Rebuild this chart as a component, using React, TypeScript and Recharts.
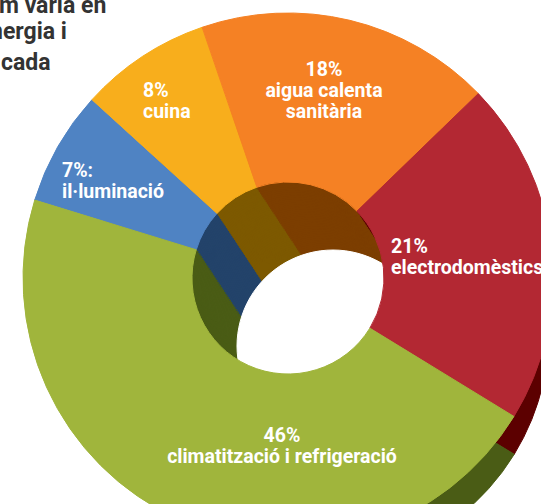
import React from 'react';
import { PieChart, Pie, Cell } from 'recharts';

// consum per usos
const categories = ['il·luminació', 'cuina', 'aigua calenta sanitària', 'electrodomèstics', 'climatització i refrigeració'];
const shares = [7, 8, 18, 21, 46];
const percentLabels = ['7%:', '8%', '18%', '21%', '46%'];
const categoryLines = [['il·luminació'], ['cuina'], ['aigua calenta', 'sanitària'], ['electrodomèstics'], ['climatització i refrigeració']];
const titleLines = ['m varia en', 'nergia i', 'cada'];

const data = categories.map((name, i) => ({ name, value: shares[i] }));

const COLORS = ['#4f83c3', '#f8ae1c', '#f58124', '#b32833', '#a0b53c'];
const DARK = ['#23436a', '#7d5900', '#7c3e00', '#5c0000', '#4a5c15'];

// pie geometry (3d look)
const CX = 288;
const CY = 278;
const R = 265;
const HOLE = 96;
const WALL = { dx: 45, dy: 68 };
const SIDE = { dx: 25, dy: 53, shrink: 29 };
const START = 162.9;

const FONT = "Roboto, 'Liberation Sans', sans-serif";

// where each label sits
const labelPos = [
  { x: 62, y: 177, anchor: 'start' },
  { x: 143, y: 97, anchor: 'start' },
  { x: 324, y: 76, anchor: 'middle' },
  { x: 391, y: 253, anchor: 'start' },
  { x: 282, y: 442, anchor: 'middle' },
];

const renderLabel = (props: any) => {
  const i = categories.indexOf(props.name);
  if (i < 0) return null;
  const p = labelPos[i];
  const lines = [percentLabels[i], ...categoryLines[i]];
  return (
    <text
      key={`lbl-${i}`}
      x={p.x}
      y={p.y}
      textAnchor={p.anchor}
      fill="#fff"
      fontFamily={FONT}
      fontWeight="bold"
      fontSize={19.5}
    >
      {lines.map((l, j) => (
        <tspan key={j} x={p.x} dy={j === 0 ? 0 : 21}>{l}</tspan>
      ))}
    </text>
  );
};

const wallSteps = Array.from({ length: 41 }, (_, k) => k / 40);

export default function App() {
  return (
    <div style={{ position: 'absolute', left: 0, top: 0, width: 541, height: 504, background: '#fff', overflow: 'hidden' }}>
      <PieChart width={541} height={504} margin={{ top: 0, right: 0, bottom: 0, left: 0 }}>
        {/* side of the disc */}
        <Pie
          data={data}
          dataKey="value"
          cx={CX + SIDE.dx}
          cy={CY + SIDE.dy}
          outerRadius={R - SIDE.shrink}
          startAngle={START}
          endAngle={START - 360}
          stroke="none"
          isAnimationActive={false}
        >
          {data.map((d, i) => <Cell key={i} fill={DARK[i]} stroke={DARK[i]} />)}
        </Pie>

        {/* inner wall of the hole */}
        {wallSteps.map((t) => (
          <Pie
            key={`wall-${t}`}
            data={data}
            dataKey="value"
            cx={CX + WALL.dx * t}
            cy={CY + WALL.dy * t}
            outerRadius={HOLE}
            startAngle={START}
            endAngle={START - 360}
            stroke="none"
            isAnimationActive={false}
          >
            {data.map((d, i) => <Cell key={i} fill={DARK[i]} stroke={DARK[i]} />)}
          </Pie>
        ))}
        <Pie
          data={[{ name: 'hole', value: 1 }]}
          dataKey="value"
          cx={CX + WALL.dx}
          cy={CY + WALL.dy}
          outerRadius={HOLE}
          fill="#fff"
          stroke="#fff"
          isAnimationActive={false}
        />

        {/* top face */}
        <Pie
          data={data}
          dataKey="value"
          cx={CX}
          cy={CY}
          innerRadius={HOLE}
          outerRadius={R}
          startAngle={START}
          endAngle={START - 360}
          label={renderLabel}
          labelLine={false}
          isAnimationActive={false}
        >
          {data.map((d, i) => <Cell key={i} fill={COLORS[i]} stroke={COLORS[i]} />)}
        </Pie>
      </PieChart>
      <svg width={541} height={504} style={{ position: 'absolute', left: 0, top: 0, pointerEvents: 'none' }}>
        <text fill="#333" fontFamily="Roboto, sans-serif" fontWeight="bold" fontSize={23}>
          {titleLines.map((l, j) => (
            <tspan key={j} x={[-1, -10, 1][j]} y={[13, 39, 70][j]}>{l}</tspan>
          ))}
        </text>
      </svg>
    </div>
  );
}
